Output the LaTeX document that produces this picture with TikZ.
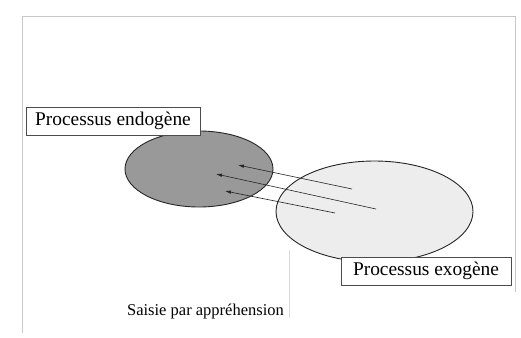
\documentclass[tikz,border=0pt]{standalone}
\usepackage{fontspec}
\setmainfont{Liberation Serif}
\usetikzlibrary{arrows.meta,shapes.geometric}
\begin{document}
\begin{tikzpicture}[x=1pt,y=-1pt,
  frameline/.style={draw=black!22,line width=0.8pt},
  labelbox/.style={draw=black!70,fill=white,line width=0.6pt,inner sep=0pt,font=\fontsize{19.4}{22}\selectfont},
  blob/.style={ellipse,draw=black!85,line width=0.9pt,inner sep=0pt},
  flow/.style={draw=black!85,line width=0.6pt,-{Latex[length=6pt,width=3.5pt]}}]
\useasboundingbox (0,0) rectangle (521,337);
% faint frame
\draw[frameline] (22,333) -- (22,16) -- (515,16) -- (515,292);
\draw[draw=black!15,line width=0.6pt] (289,250) -- (289,318);
% ellipses
\node[blob,fill=black!40,minimum width=148pt,minimum height=76pt] (endo) at (199,169) {};
\node[blob,fill=black!7,minimum width=197pt,minimum height=101pt] (exo) at (374.5,211.5) {};
% arrows
\coordinate (s1) at (352,189); \coordinate (t1) at (238,165);
\coordinate (s2) at (376,209); \coordinate (t2) at (216,174);
\coordinate (s3) at (335,213); \coordinate (t3) at (225,191);
\draw[flow] (s1) -- (t1);
\draw[flow] (s2) -- (t2);
\draw[flow] (s3) -- (t3);
% labels
\node[labelbox,minimum width=174pt,minimum height=28pt] (lendo) at (113,121) {Processus endogène};
\node[labelbox,minimum width=170pt,minimum height=28pt] (lexo) at (426,271) {Processus exogène};
\node[font=\fontsize{16.5}{19}\selectfont,inner sep=0pt] (saisie) at (205.5,312) {Saisie par appréhension};
\end{tikzpicture}
\end{document}
